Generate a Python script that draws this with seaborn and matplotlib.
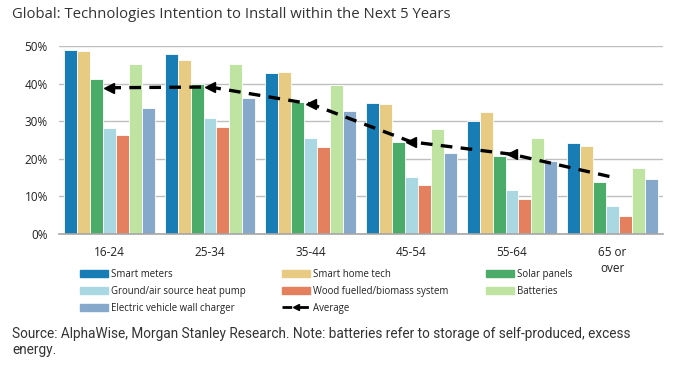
import pandas as pd
import matplotlib
matplotlib.use("Agg")
import matplotlib.pyplot as plt
from matplotlib.lines import Line2D
from matplotlib.patches import Patch
import seaborn as sns

ages = ["16-24", "25-34", "35-44", "45-54", "55-64", "65 or\nover"]
techs = ["Smart meters", "Smart home tech", "Solar panels",
         "Ground/air source heat pump", "Wood fuelled/biomass system",
         "Batteries", "Electric vehicle wall charger"]
colors = ["#177DB4", "#E8CB82", "#4BAC6A", "#A9D7E2", "#E5805F", "#BFE3A1", "#86A8CA"]

smart_meters = [48.9, 47.8, 42.7, 34.8, 30.0, 24.1]
smart_home = [48.6, 46.3, 43.1, 34.7, 32.4, 23.3]
solar = [41.1, 39.8, 35.1, 24.5, 20.8, 13.7]
heat_pump = [28.2, 30.8, 25.6, 15.2, 11.8, 7.5]
wood = [26.3, 28.4, 23.1, 13.0, 9.4, 4.8]
batteries = [45.3, 45.1, 39.5, 28.0, 25.5, 17.5]
ev_charger = [33.6, 36.3, 32.6, 21.5, 19.4, 14.5]
average = [38.9, 39.1, 34.6, 24.5, 21.2, 15.1]

series = [smart_meters, smart_home, solar, heat_pump, wood, batteries, ev_charger]
rows = []
for t, vals in zip(techs, series):
    for a, v in zip(ages, vals):
        rows.append({"age": a, "tech": t, "value": v})
df = pd.DataFrame(rows)

sns.set_theme(style="white")
plt.rcParams["font.family"] = ["Open Sans", "DejaVu Sans"]

fig = plt.figure(figsize=(6.73, 3.65), dpi=100)
ax = fig.add_axes([59 / 673, 1 - 234 / 365, 604 / 673, 188 / 365])

sns.barplot(data=df, x="age", y="value", hue="tech", hue_order=techs,
            order=ages, palette=colors, saturation=1, width=0.9, gap=0,
            edgecolor="white", linewidth=0.6, legend=False, ax=ax, zorder=2)

dash = (0, (3.5, 2.5))
ax.plot(range(len(ages)), average, color="black", lw=2.4, linestyle=dash, zorder=3)
ax.plot(range(len(ages) - 1), average[:-1], linestyle="none", marker="<",
        markersize=6.5, color="black", zorder=4)

ax.set_xlim(-0.5, 5.5)
ax.set_ylim(0, 50)
ax.set_yticks(range(0, 51, 10))
ax.set_yticklabels([f"{v}%" for v in range(0, 51, 10)], fontsize=8.5, color="#222222")
ax.tick_params(axis="x", labelsize=8.5, pad=9, colors="#222222")
ax.tick_params(axis="y", pad=8)
ax.tick_params(length=0)
ax.set_xlabel("")
ax.set_ylabel("")
ax.grid(axis="y", color="#BFBFBF", lw=1, zorder=0)
ax.set_axisbelow(True)
for s in ["top", "right", "left"]:
    ax.spines[s].set_visible(False)
ax.spines["bottom"].set_color("#A6A6A6")
ax.spines["bottom"].set_linewidth(1.2)

handles = [Patch(color=c, label=t) for c, t in zip(colors, techs)]
avg_handle = Line2D([], [], color="black", lw=2, linestyle=dash,
                    marker="<", markersize=5, label="Average")
columns = [[handles[0], handles[3], handles[6]],
           [handles[1], handles[4], avg_handle],
           [handles[2], handles[5]]]
col_x = [80, 282, 486]
for hs, x in zip(columns, col_x):
    leg = fig.legend(handles=hs, ncol=1, loc="upper left",
                     bbox_to_anchor=(x / 673, 1 - 269 / 365), frameon=False,
                     fontsize=6.9, handlelength=2.9, handleheight=0.75,
                     handletextpad=0.35, labelspacing=0.62, borderaxespad=0,
                     borderpad=0)
    for txt in leg.get_texts():
        txt.set_color("#222222")

fig.text(12 / 673, 1 - 14 / 365,
         "Global: Technologies Intention to Install within the Next 5 Years",
         fontsize=10.7, va="center", ha="left", color="#333333")
fig.text(12 / 673, 1 - 342 / 365,
         "Source: AlphaWise, Morgan Stanley Research. Note: batteries refer to storage of self-produced, excess\nenergy.",
         fontsize=9.8, va="center", ha="left", color="#333333",
         family=["Roboto", "DejaVu Sans"], linespacing=1.25)

fig.savefig("out.png", dpi=100)
